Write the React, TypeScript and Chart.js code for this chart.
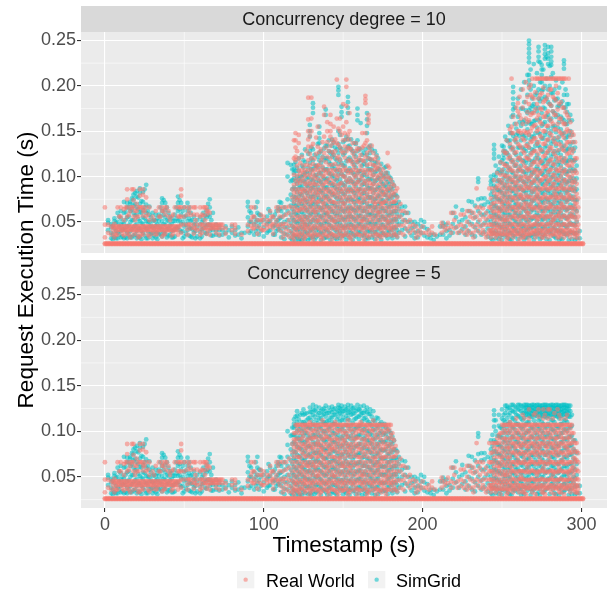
import React, { useEffect, useRef } from "react";
import { Chart, registerables } from "chart.js";

Chart.register(...registerables);

type Col = [number, number[]]; // [timestamp (s), request execution times (ms)]

// ---------- labels & ticks ----------
const PANEL_TITLES = ["Concurrency degree = 10", "Concurrency degree = 5"];
const SERIES_NAMES = ["Real World", "SimGrid"];
const X_TITLE = "Timestamp (s)";
const Y_TITLE = "Request Execution Time (s)";
const X_TICKS = [0, 100, 200, 300];
const Y_TICKS = [0.05, 0.1, 0.15, 0.2, 0.25];
const X_MINOR = [50, 150, 250];
const Y_MINOR = [0.025, 0.075, 0.125, 0.175, 0.225];

// ---------- data (values in ms) ----------
const BASELINE_MS = [25.6, 26.4];
const BASELINE_T = [
  0, 1, 2, 3, 4, 5, 6, 7, 8, 9, 10, 11, 12, 13, 14, 15, 16, 17, 18, 19, 20, 21, 22, 23, 24, 25, 26, 27, 28, 29,
  30, 31, 32, 33, 34, 35, 36, 37, 38, 39, 40, 41, 42, 43, 44, 45, 46, 47, 48, 49, 50, 51, 52, 53, 54, 55, 56, 57, 58, 59,
  60, 61, 62, 63, 64, 65, 66, 67, 68, 69, 70, 71, 72, 73, 74, 75, 76, 77, 78, 79, 80, 81, 82, 83, 84, 85, 86, 87, 88, 89,
  90, 91, 92, 93, 94, 95, 96, 97, 98, 99, 100, 101, 102, 103, 104, 105, 106, 107, 108, 109, 110, 111, 112, 113, 114, 115,
  116, 117, 118, 119, 120, 121, 122, 123, 124, 125, 126, 127, 128, 129, 130, 131, 132, 133, 134, 135, 136, 137, 138, 139,
  140, 141, 142, 143, 144, 145, 146, 147, 148, 149, 150, 151, 152, 153, 154, 155, 156, 157, 158, 159, 160, 161, 162, 163,
  164, 165, 166, 167, 168, 169, 170, 171, 172, 173, 174, 175, 176, 177, 178, 179, 180, 181, 182, 183, 184, 185, 186, 187,
  188, 189, 190, 191, 192, 193, 194, 195, 196, 197, 198, 199, 200, 201, 202, 203, 204, 205, 206, 207, 208, 209, 210, 211,
  212, 213, 214, 215, 216, 217, 218, 219, 220, 221, 222, 223, 224, 225, 226, 227, 228, 229, 230, 231, 232, 233, 234, 235,
  236, 237, 238, 239, 240, 241, 242, 243, 244, 245, 246, 247, 248, 249, 250, 251, 252, 253, 254, 255, 256, 257, 258, 259,
  260, 261, 262, 263, 264, 265, 266, 267, 268, 269, 270, 271, 272, 273, 274, 275, 276, 277, 278, 279, 280, 281, 282, 283,
  284, 285, 286, 287, 288, 289, 290, 291, 292, 293, 294, 295, 296, 297, 298, 299, 300, 301,
];

const REAL_LOW: Col[] = [
  [0, [66, 47, 33]], [2, [47, 38]], [4, [45, 36]], [6, [48, 44, 37, 33]], [8, [66, 45, 41, 36]],
  [10, [66, 56, 45, 41]], [12, [64, 52, 45, 41, 35]], [14, [86, 75, 66, 56, 45, 41, 37]], [16, [66, 62, 45, 41, 33]],
  [18, [86, 74, 66, 56, 45, 41, 36]], [20, [70, 62, 56, 45, 41, 37]], [22, [86, 79, 66, 45, 41, 34]],
  [24, [86, 80, 66, 62, 57, 45, 41, 36]], [26, [77, 66, 56, 45, 41]], [28, [66, 52, 45, 41, 34]], [30, [56, 45, 41, 37]],
  [32, [62, 45, 41, 36]], [34, [66, 56, 45, 41]], [36, [66, 62, 45, 41, 34]], [38, [66, 58, 45, 41, 37]],
  [40, [62, 56, 45, 41]], [42, [56, 45, 41, 35]], [44, [66, 45, 41]], [46, [66, 56, 45, 41, 36]],
  [48, [86, 79, 66, 56, 47, 38]], [50, [66, 56, 47]], [52, [66, 58, 47, 42, 36]], [54, [66, 58, 47, 43]],
  [56, [66, 58, 47, 43, 37]], [58, [58, 47, 41]], [60, [66, 56, 47, 42, 36]], [62, [66, 57, 47, 43]],
  [64, [66, 62, 58, 47, 43, 37]], [66, [60, 47, 43, 36]], [68, [47, 43]], [70, [47, 43, 38]], [72, [47, 43, 36]],
  [74, [47, 43]], [76, [43, 37]], [80, [47, 41]], [82, [47, 43, 37]], [86, [36]], [90, [47, 40]],
  [92, [66, 52, 46]], [94, [66, 56, 48, 43]], [96, [52, 45, 37]], [98, [58, 52, 43]], [100, [56, 47, 41]],
  [102, [52, 47, 43]], [104, [62, 52, 45]], [106, [56, 48, 43, 37]], [108, [66, 52, 47]], [110, [66, 56, 47, 41]],
];
const REAL_LOW_ODD: Col[] = [
  [5, [45, 41]], [7, [45, 41, 36]], [9, [56, 45, 41]], [11, [45, 41, 37]], [13, [66, 45, 41]], [15, [58, 45, 41, 36]],
  [17, [86, 66, 45, 41]], [19, [62, 52, 45, 41]], [21, [66, 56, 45, 41, 33]], [23, [66, 45, 41, 37]], [25, [62, 45, 41]],
  [27, [58, 45, 41, 36]], [29, [45, 41]], [31, [52, 45, 41]], [33, [45, 41, 37]], [35, [56, 45, 41]],
  [37, [62, 45, 41, 36]], [39, [66, 45, 41]], [41, [52, 45, 41]], [43, [58, 45, 41, 37]], [45, [45, 41]],
  [47, [66, 56, 45]], [53, [62, 47]], [57, [66, 52, 43]], [61, [58, 47, 38]], [63, [66, 52, 43]], [65, [62, 47, 41]],
  [67, [47, 43]], [69, [47, 43]], [71, [47, 43]], [73, [47]], [93, [56, 43]], [99, [52, 41]], [105, [56, 47]],
  [109, [62, 45]],
];

const SIM_LOW: Col[] = [
  [2, [52, 49, 41]], [4, [48, 44, 38, 32]], [6, [54, 51, 43, 33]], [8, [60, 50, 38, 32]], [10, [62, 54, 47, 40, 33]],
  [12, [72, 60, 48, 43, 32]], [14, [71, 66, 55, 45, 38, 32]], [16, [72, 70, 62, 50, 40, 33]],
  [18, [80, 75, 68, 60, 52, 44, 35]], [20, [84, 78, 66, 58, 48, 40, 32]], [22, [87, 82, 70, 61, 51, 43, 33]],
  [24, [83, 72, 63, 55, 48, 38]], [26, [91, 69, 60, 51, 43, 32]], [28, [67, 58, 50, 45, 36]], [30, [60, 51, 44, 38, 32]],
  [32, [58, 51, 46, 39, 33]], [34, [58, 51, 43, 36]], [36, [76, 71, 62, 51, 42, 34]], [38, [71, 63, 55, 47, 37]],
  [40, [60, 51, 43, 35]], [42, [54, 48, 40, 33]], [44, [58, 51, 42, 34]], [46, [78, 71, 62, 51, 44]],
  [48, [71, 58, 48, 39]], [50, [66, 55, 45, 34]], [52, [71, 62, 51, 41]], [54, [60, 51, 43, 34]], [56, [56, 47, 38]],
  [58, [52, 44, 34]], [60, [55, 47, 39, 32]], [62, [60, 52, 43]], [64, [63, 55, 45, 37]], [66, [75, 66, 56, 47, 40]],
  [68, [60, 45, 41, 35]], [70, [47, 41, 36]], [72, [45, 41, 35]], [74, [41, 36]], [76, [45, 38]], [78, [41, 33]],
  [80, [45, 38]], [82, [41, 35]], [84, [44, 36]], [86, [38, 32]], [88, [38]], [90, [72, 67, 55, 45]],
  [92, [60, 50, 40]], [94, [55, 47, 36]], [96, [72, 60, 52, 43]], [98, [57, 50, 40]], [100, [52, 44, 34]],
  [102, [56, 48, 38]], [104, [60, 51, 41]], [106, [55, 45, 36]], [108, [62, 50, 40]], [110, [72, 64, 54, 44]],
];
const SIM_LOW_ODD: Col[] = [
  [5, [46, 36, 31]], [7, [49, 40, 32]], [9, [56, 45, 36]], [11, [50, 42, 34]], [13, [61, 52, 41, 33]],
  [15, [66, 56, 46, 36]], [17, [76, 64, 52, 42, 33]], [19, [82, 70, 57, 46, 36]], [21, [77, 64, 53, 43, 34]],
  [23, [73, 60, 49, 40, 31]], [25, [86, 66, 54, 44, 35]], [27, [62, 50, 40, 32]], [29, [55, 46, 37]],
  [31, [52, 43, 35]], [33, [54, 47, 38, 31]], [35, [66, 56, 46, 37]], [37, [74, 58, 48, 38]], [39, [66, 52, 42, 33]],
  [41, [56, 46, 36]], [43, [51, 41, 33]], [45, [66, 54, 44]], [47, [74, 64, 52, 41]], [49, [62, 50, 40, 32]],
  [51, [57, 47, 37]], [53, [66, 54, 44, 35]], [55, [52, 42, 33]], [57, [48, 40, 32]], [61, [50, 42, 34]],
  [63, [57, 47, 38]], [65, [70, 58, 47]], [67, [52, 43, 35]], [91, [62, 50, 38]], [95, [66, 50, 40]],
  [97, [58, 46, 36]], [103, [64, 50, 40]], [107, [58, 46, 36]], [109, [66, 52, 42]],
];

const REAL_MID: Col[] = [
  [192, [52, 45, 38]], [194, [47, 41]], [196, [45, 38, 33]], [198, [41, 36]], [200, [45, 38]], [202, [38]],
  [204, [41, 36]], [206, [45, 38]], [208, [36]], [212, [49, 45, 38]], [214, [45, 41]], [216, [49, 43]],
  [218, [60, 45, 38]], [220, [60, 52, 43]], [222, [45, 38]], [224, [58, 47, 40]], [226, [58, 45, 38]],
  [228, [62, 50, 41, 36]], [230, [62, 56, 47, 38]], [232, [60, 54, 45, 38, 33]], [234, [87, 66, 56, 47, 41]],
  [236, [66, 60, 52, 45, 38]],
];

const SIM_MID: Col[] = [
  [193, [50, 43, 35]], [195, [50, 45, 38, 32]], [197, [48, 40, 33]], [199, [52, 45, 38]], [201, [50, 44, 35]],
  [203, [42, 33]], [205, [36, 32]], [207, [36, 30]], [209, [34]], [211, [45, 36]], [213, [49, 45, 36]],
  [215, [47, 40, 32]], [217, [41, 35]], [219, [60, 48, 38]], [221, [67, 55, 44]], [223, [50, 38]],
  [225, [63, 52, 42]], [227, [55, 45, 36]], [229, [73, 62, 50, 40]], [231, [72, 60, 48, 36]],
  [233, [68, 55, 44, 34]], [235, [98, 94, 75, 62, 50, 40]], [237, [76, 68, 58, 46, 36]],
];

const REAL_PEAK1_C10: Col[] = [
  [112, [66, 56, 48, 45, 38, 33]], [114, [66, 58, 48, 42, 36]], [116, [67, 60, 52, 46, 40, 34]],
  [118, [86, 77, 66, 56, 46, 38, 33]], [120, [148, 140, 132, 122, 118, 96, 86, 77, 66, 56, 46, 41, 36]],
  [122, [146, 137, 120, 107, 96, 86, 77, 70, 62, 56, 46, 38, 33]], [124, [122, 107, 98, 86, 80, 72, 66, 56, 50, 46, 38]],
  [126, [107, 100, 92, 86, 77, 70, 66, 56, 48, 46, 41, 33]],
  [128, [187, 163, 150, 141, 133, 118, 107, 95, 86, 77, 66, 56, 46, 38]],
  [130, [187, 164, 150, 133, 120, 107, 99, 90, 86, 77, 72, 66, 56, 46, 41, 34]],
  [132, [120, 107, 98, 92, 86, 77, 66, 61, 56, 46, 38]],
  [134, [155, 133, 112, 107, 97, 86, 80, 72, 66, 56, 51, 46, 36]],
  [136, [130, 118, 107, 96, 86, 77, 66, 56, 46, 41, 33]],
  [138, [177, 168, 144, 126, 107, 100, 92, 86, 77, 70, 66, 56, 46, 38]],
  [140, [160, 150, 138, 122, 107, 96, 86, 77, 66, 60, 56, 46, 41, 34]],
  [142, [168, 158, 150, 144, 134, 120, 107, 98, 86, 77, 66, 56, 46, 38]],
  [144, [155, 137, 124, 107, 95, 86, 80, 72, 66, 56, 51, 46, 36]],
  [146, [207, 164, 137, 120, 107, 98, 86, 77, 66, 56, 46, 41, 33]],
  [148, [164, 150, 132, 118, 107, 92, 86, 77, 66, 56, 46, 38]],
  [150, [180, 155, 140, 126, 107, 100, 86, 77, 70, 66, 56, 46, 41, 35]],
  [152, [207, 199, 178, 160, 141, 128, 107, 96, 86, 77, 66, 56, 46, 38]],
  [154, [170, 150, 141, 131, 119, 107, 98, 86, 77, 66, 60, 56, 46, 33]],
  [156, [137, 126, 114, 107, 96, 86, 77, 66, 56, 46, 41]],
  [158, [137, 128, 118, 107, 100, 92, 86, 77, 66, 56, 46, 38]],
  [160, [130, 120, 107, 96, 86, 80, 72, 66, 56, 46, 36]],
  [162, [148, 132, 118, 107, 98, 86, 77, 66, 56, 51, 46, 41]],
  [164, [189, 185, 181, 148, 137, 122, 107, 95, 86, 77, 66, 56, 46, 38]],
  [166, [168, 163, 159, 133, 120, 107, 96, 86, 77, 66, 56, 46, 33]],
  [168, [134, 119, 107, 100, 90, 86, 77, 66, 56, 46, 41]],
  [170, [119, 112, 107, 96, 86, 77, 70, 66, 56, 46, 38]],
  [172, [116, 108, 98, 86, 77, 66, 60, 56, 46, 36]],
  [174, [104, 96, 86, 77, 70, 66, 56, 46, 41, 33]],
  [176, [98, 86, 80, 72, 66, 56, 46, 38]],
  [178, [126, 112, 100, 86, 77, 66, 56, 50, 46, 36]],
  [180, [96, 86, 77, 66, 56, 46, 41]], [182, [90, 80, 72, 66, 56, 46, 38]], [184, [87, 77, 66, 56, 46, 34]],
  [186, [70, 62, 56, 46, 38]], [188, [62, 52, 46, 36]], [190, [60, 50, 42]],
];
const REAL_PEAK1_C10_ODD: Col[] = [
  [119, [140, 120, 102, 91, 82, 72, 61, 51, 43, 36, 31]], [121, [128, 112, 101, 92, 82, 74, 63, 52, 43, 36]],
  [123, [115, 103, 93, 83, 74, 64, 53, 43, 35]], [125, [112, 104, 95, 84, 75, 63, 52, 43, 36, 31]],
  [127, [128, 113, 102, 91, 82, 73, 62, 52, 43, 35]], [129, [145, 125, 112, 102, 92, 82, 71, 61, 51, 43, 36]],
  [131, [136, 114, 103, 94, 82, 74, 63, 52, 43, 36, 31]], [133, [143, 125, 111, 101, 91, 82, 71, 61, 51, 43, 35]],
  [135, [127, 113, 103, 92, 83, 73, 63, 52, 43, 36]], [137, [138, 121, 111, 101, 90, 81, 71, 61, 51, 43, 35, 31]],
  [139, [132, 116, 104, 94, 83, 74, 63, 52, 43, 36]], [141, [128, 113, 103, 92, 82, 72, 61, 51, 43, 35]],
  [143, [140, 127, 113, 103, 92, 82, 72, 62, 52, 43, 36, 31]], [145, [141, 128, 114, 102, 91, 82, 71, 61, 51, 43, 35]],
  [147, [153, 135, 122, 111, 101, 90, 81, 71, 61, 52, 43, 36]], [149, [146, 128, 113, 103, 93, 83, 73, 62, 52, 43, 35, 31]],
  [151, [148, 133, 121, 110, 100, 90, 81, 71, 61, 51, 43, 36]], [153, [146, 132, 117, 104, 94, 83, 73, 62, 52, 43, 35]],
  [155, [130, 117, 104, 93, 83, 72, 62, 52, 43, 36, 31]], [157, [122, 111, 101, 90, 81, 71, 61, 51, 43, 35]],
  [159, [131, 116, 104, 94, 84, 73, 62, 52, 43, 36]], [161, [124, 112, 101, 91, 81, 71, 61, 51, 43, 35]],
  [163, [134, 117, 104, 93, 83, 73, 62, 52, 43, 36, 31]], [165, [140, 126, 113, 102, 91, 81, 71, 61, 51, 43, 35]],
  [167, [129, 114, 104, 93, 83, 73, 62, 52, 43, 36]], [169, [126, 113, 102, 92, 82, 72, 61, 51, 43, 35]],
  [171, [122, 110, 101, 91, 81, 72, 62, 52, 43, 36, 31]], [173, [112, 102, 92, 82, 72, 61, 51, 43, 35]],
  [175, [108, 100, 90, 81, 71, 61, 52, 43, 36]], [177, [104, 93, 83, 73, 62, 52, 43, 35]],
  [179, [110, 98, 89, 80, 71, 61, 51, 43, 36]], [181, [92, 82, 72, 61, 51, 43, 35]], [183, [84, 73, 62, 52, 43, 36]],
];

const SIM_PEAK1_C10: Col[] = [
  [111, [71, 62, 55, 48, 40, 33]], [113, [66, 58, 50, 44, 37, 31]], [115, [115, 100, 75, 62, 52, 44, 36]],
  [117, [113, 95, 80, 68, 58, 49, 40, 32]], [119, [113, 108, 104, 98, 88, 78, 70, 61, 52, 44, 35]],
  [121, [110, 100, 92, 83, 74, 66, 57, 49, 41, 33]], [123, [100, 95, 89, 81, 73, 64, 55, 47, 39, 31]],
  [125, [118, 110, 102, 95, 86, 76, 68, 59, 50, 42, 34]], [127, [105, 98, 90, 82, 72, 63, 55, 47, 38]],
  [129, [157, 150, 144, 128, 115, 104, 93, 84, 75, 66, 57, 48, 40, 32]],
  [131, [181, 176, 170, 130, 118, 108, 96, 88, 78, 70, 61, 52, 43, 34]],
  [133, [112, 102, 94, 85, 76, 67, 58, 50, 41, 33]],
  [135, [155, 148, 142, 137, 126, 118, 104, 95, 85, 76, 66, 57, 48, 39]],
  [137, [122, 110, 100, 91, 82, 72, 63, 54, 45, 36]],
  [139, [174, 168, 134, 120, 108, 97, 88, 79, 70, 60, 51, 42, 33]],
  [141, [140, 128, 116, 104, 94, 84, 75, 66, 56, 47, 38]],
  [143, [141, 134, 127, 122, 110, 100, 90, 80, 70, 61, 52, 43, 34]],
  [145, [132, 120, 108, 97, 88, 78, 68, 59, 50, 41, 32]],
  [147, [199, 195, 190, 150, 136, 126, 114, 102, 92, 82, 72, 62, 52, 44, 35]],
  [149, [177, 171, 166, 130, 115, 103, 93, 84, 74, 64, 55, 46, 37]],
  [151, [140, 126, 112, 100, 90, 80, 70, 61, 52, 43, 34]],
  [153, [188, 182, 176, 170, 141, 133, 119, 106, 94, 84, 74, 64, 55, 45, 36]],
  [155, [141, 130, 118, 106, 95, 85, 75, 65, 56, 47, 38]],
  [157, [137, 125, 113, 102, 92, 82, 72, 63, 53, 44, 35]],
  [159, [175, 168, 162, 140, 128, 116, 104, 94, 84, 74, 64, 55, 46, 37]],
  [161, [159, 130, 118, 106, 96, 86, 76, 66, 57, 48, 39]],
  [163, [126, 114, 102, 92, 82, 72, 62, 53, 44, 35]],
  [165, [170, 163, 156, 148, 124, 112, 100, 90, 80, 70, 61, 52, 42, 33]],
  [167, [134, 126, 119, 108, 97, 87, 77, 67, 58, 48, 39]],
  [169, [112, 102, 92, 82, 72, 63, 54, 45, 36]],
  [171, [124, 115, 106, 96, 86, 76, 66, 57, 48, 39]],
  [173, [108, 98, 88, 79, 70, 61, 52, 43, 34]],
  [175, [101, 92, 83, 74, 65, 56, 47, 38]],
  [177, [111, 104, 97, 89, 80, 71, 62, 53, 44, 35]],
  [179, [100, 92, 84, 75, 66, 57, 48, 39]], [181, [94, 86, 77, 68, 59, 50, 41, 32]],
  [183, [80, 71, 62, 53, 44, 36]], [185, [72, 64, 55, 47, 38]], [187, [67, 58, 50, 41]],
  [189, [67, 60, 52, 43, 34]], [191, [60, 50, 40]],
];
const SIM_PEAK1_C10_EVEN: Col[] = [
  [118, [108, 96, 86, 74, 64, 54, 45, 37, 30]], [120, [116, 106, 95, 86, 77, 68, 59, 50, 42, 34, 29]],
  [122, [120, 106, 97, 87, 78, 69, 60, 51, 43, 35, 30]], [124, [124, 112, 100, 90, 80, 70, 61, 52, 44, 36, 30]],
  [126, [130, 116, 104, 94, 84, 74, 65, 56, 47, 39, 31]], [128, [125, 110, 99, 89, 79, 70, 61, 52, 44, 36, 30]],
  [130, [132, 120, 108, 97, 87, 78, 68, 59, 50, 41, 33]], [132, [124, 112, 101, 91, 81, 72, 63, 54, 45, 37, 30]],
  [134, [136, 122, 110, 99, 89, 80, 70, 61, 52, 43, 35]], [136, [128, 115, 104, 94, 84, 74, 65, 56, 47, 38, 30]],
  [138, [131, 118, 107, 97, 87, 77, 67, 58, 49, 40, 32]], [140, [134, 120, 108, 98, 88, 78, 68, 59, 50, 41, 33]],
  [142, [126, 114, 103, 93, 83, 73, 64, 55, 46, 37, 30]], [144, [138, 124, 112, 101, 91, 81, 71, 62, 53, 44, 35]],
  [146, [130, 118, 106, 96, 86, 76, 66, 57, 48, 39, 31]], [148, [146, 132, 119, 107, 97, 87, 77, 67, 58, 49, 40, 32]],
  [150, [138, 124, 112, 101, 91, 81, 71, 62, 53, 44, 35]], [152, [144, 130, 117, 106, 95, 85, 75, 65, 56, 47, 38, 30]],
  [154, [134, 121, 109, 98, 88, 78, 68, 59, 50, 41, 33]], [156, [128, 116, 104, 94, 84, 74, 64, 55, 46, 37, 30]],
  [158, [136, 122, 110, 99, 89, 79, 69, 60, 51, 42, 34]], [160, [131, 118, 106, 96, 86, 76, 66, 57, 48, 39, 31]],
  [162, [124, 112, 101, 91, 81, 71, 62, 53, 44, 35]], [164, [130, 117, 105, 95, 85, 75, 65, 56, 47, 38, 30]],
  [166, [132, 120, 108, 97, 87, 77, 67, 58, 49, 40, 32]],
  [168, [130, 118, 107, 97, 87, 77, 68, 59, 50, 41, 33]], [170, [128, 116, 105, 95, 85, 75, 66, 57, 48, 39, 31]],
  [172, [120, 109, 99, 89, 79, 70, 61, 52, 43, 35]], [174, [114, 104, 94, 84, 74, 65, 56, 47, 38, 30]],
  [176, [110, 100, 90, 80, 71, 62, 53, 44, 36]], [178, [104, 94, 85, 76, 67, 58, 49, 40, 32]],
  [180, [98, 88, 79, 70, 61, 52, 43, 35]], [182, [90, 80, 71, 62, 53, 44, 36]], [184, [78, 68, 59, 50, 41, 33]],
];

const REAL_PEAK2_C10: Col[] = [
  [238, [65, 56, 47, 41, 37]], [240, [60, 53, 47, 37, 33]], [242, [87, 66, 56, 47, 41, 37]],
  [244, [87, 70, 62, 56, 47, 41, 37]], [246, [87, 77, 66, 56, 47, 41, 37, 33]],
  [248, [96, 87, 77, 66, 60, 56, 47, 41, 37]], [250, [107, 96, 87, 77, 70, 66, 56, 47, 41, 37]],
  [252, [126, 112, 100, 87, 77, 66, 56, 52, 47, 41, 37]],
  [254, [120, 107, 96, 87, 77, 70, 66, 56, 47, 41, 37, 33]],
  [256, [208, 155, 148, 130, 116, 107, 96, 87, 77, 66, 56, 47, 41, 37]],
  [258, [140, 126, 112, 100, 92, 87, 77, 66, 60, 56, 47, 41, 37]],
  [260, [181, 172, 150, 136, 120, 107, 96, 87, 77, 69, 66, 56, 47, 41, 37]],
  [262, [164, 148, 132, 118, 107, 98, 87, 80, 77, 66, 56, 47, 41, 37]],
  [264, [150, 140, 126, 112, 100, 92, 87, 77, 70, 66, 56, 47, 41, 37, 33]],
  [266, [188, 171, 160, 149, 134, 120, 107, 96, 87, 77, 66, 60, 56, 47, 41, 37]],
  [268, [201, 190, 168, 150, 138, 124, 110, 100, 92, 87, 77, 69, 66, 56, 47, 41, 37]],
  [270, [186, 170, 156, 142, 128, 116, 107, 96, 87, 77, 66, 56, 47, 41, 37]],
  [272, [208, 180, 164, 150, 136, 120, 107, 100, 87, 80, 77, 66, 56, 52, 47, 41, 37]],
  [274, [208, 190, 175, 160, 145, 130, 116, 104, 96, 87, 77, 69, 66, 56, 47, 41, 37]],
  [276, [208, 198, 182, 166, 150, 136, 122, 110, 98, 87, 77, 66, 60, 56, 47, 41, 37, 33]],
  [278, [208, 186, 170, 156, 140, 126, 112, 100, 92, 87, 77, 66, 56, 47, 41, 37]],
  [280, [208, 196, 180, 164, 148, 132, 118, 107, 96, 87, 77, 70, 66, 56, 47, 41, 37]],
  [282, [208, 188, 172, 158, 142, 128, 114, 102, 92, 87, 77, 66, 56, 52, 47, 41, 37]],
  [284, [208, 200, 184, 168, 152, 136, 122, 108, 98, 87, 80, 77, 66, 56, 47, 41, 37]],
  [286, [208, 180, 164, 150, 136, 120, 107, 96, 87, 77, 66, 60, 56, 47, 41, 37, 33]],
  [288, [208, 176, 160, 146, 130, 116, 104, 92, 87, 77, 69, 66, 56, 47, 41, 37]],
  [290, [208, 171, 158, 149, 134, 120, 107, 96, 87, 77, 66, 56, 47, 41, 37]],
  [292, [208, 165, 150, 138, 126, 112, 100, 87, 80, 77, 66, 56, 52, 47, 41, 37]],
  [294, [149, 138, 126, 112, 100, 92, 87, 77, 66, 60, 56, 47, 41, 37]],
  [296, [138, 120, 107, 96, 87, 77, 70, 66, 56, 47, 41, 37, 33]],
  [298, [76, 66, 56, 47, 41, 37, 32]],
];
const REAL_PEAK2_C10_ODD: Col[] = [
  [243, [76, 66, 56, 47, 41, 37, 33]], [245, [96, 82, 71, 61, 52, 44, 37]], [247, [104, 90, 81, 72, 62, 52, 44, 36]],
  [249, [116, 102, 92, 82, 72, 62, 52, 44, 36, 31]], [251, [128, 114, 102, 92, 82, 73, 63, 52, 44, 36]],
  [253, [140, 126, 112, 101, 91, 82, 72, 62, 52, 44, 36, 31]], [255, [152, 136, 122, 110, 100, 91, 82, 72, 62, 52, 44, 36]],
  [257, [166, 148, 132, 118, 106, 96, 86, 76, 66, 56, 48, 40, 33]],
  [259, [176, 158, 142, 127, 114, 103, 93, 83, 73, 63, 53, 44, 36]],
  [261, [188, 168, 150, 134, 121, 110, 100, 90, 80, 70, 61, 52, 44, 36, 31]],
  [263, [196, 176, 158, 142, 128, 116, 105, 95, 85, 75, 65, 56, 48, 40, 33]],
  [265, [204, 182, 164, 148, 134, 121, 110, 100, 90, 80, 71, 62, 53, 44, 36]],
  [267, [198, 180, 162, 146, 132, 119, 108, 98, 88, 78, 69, 60, 51, 44, 36, 31]],
  [269, [208, 188, 170, 154, 139, 126, 114, 103, 93, 83, 73, 64, 55, 46, 38]],
  [271, [208, 193, 174, 157, 142, 128, 116, 105, 95, 85, 75, 65, 56, 48, 40, 33]],
  [273, [208, 186, 168, 152, 138, 125, 113, 102, 92, 82, 72, 62, 53, 44, 36]],
  [275, [208, 192, 174, 158, 143, 129, 117, 106, 96, 86, 76, 66, 57, 48, 40, 33]],
  [277, [208, 184, 166, 150, 136, 123, 111, 100, 90, 80, 71, 62, 53, 44, 36]],
  [279, [208, 190, 172, 156, 141, 128, 116, 105, 95, 85, 75, 65, 56, 48, 40, 33]],
  [281, [208, 196, 178, 161, 146, 132, 119, 108, 98, 88, 78, 68, 59, 50, 42, 35]],
  [283, [208, 186, 168, 152, 138, 125, 113, 102, 92, 82, 72, 62, 53, 44, 36]],
  [285, [208, 192, 174, 158, 143, 129, 117, 106, 96, 86, 76, 66, 57, 48, 40, 33]],
  [287, [208, 182, 164, 148, 134, 121, 110, 100, 90, 80, 71, 62, 53, 44, 36]],
  [289, [208, 176, 158, 143, 129, 117, 106, 96, 86, 76, 66, 57, 48, 40, 33]],
  [291, [168, 152, 138, 125, 113, 102, 92, 82, 72, 62, 53, 44, 36]],
  [293, [160, 144, 130, 117, 106, 96, 86, 76, 66, 57, 48, 40, 33]],
  [295, [146, 130, 116, 104, 94, 84, 74, 64, 55, 46, 38]], [297, [120, 104, 92, 81, 71, 61, 52, 44, 36]],
];

const SIM_PEAK2_C10: Col[] = [
  [239, [76, 69, 58, 49, 39]], [241, [72, 62, 52, 43, 34]], [243, [100, 95, 91, 80, 70, 60, 50, 40, 32]],
  [245, [135, 130, 125, 120, 102, 90, 78, 68, 58, 48, 38]], [247, [105, 95, 85, 75, 65, 55, 46, 36]],
  [249, [115, 104, 94, 84, 74, 64, 54, 44, 34]], [251, [133, 128, 124, 120, 108, 98, 88, 78, 68, 58, 48, 39]],
  [253, [140, 126, 114, 104, 94, 84, 74, 64, 54, 45, 36]],
  [255, [148, 140, 133, 120, 108, 98, 88, 78, 68, 58, 48, 38, 31]],
  [257, [199, 193, 186, 180, 174, 168, 145, 130, 116, 104, 94, 84, 74, 64, 54, 44, 35]],
  [259, [153, 146, 138, 124, 112, 100, 90, 80, 70, 60, 50, 40]],
  [261, [160, 145, 132, 120, 108, 97, 87, 77, 67, 57, 47, 37]],
  [263, [175, 160, 146, 132, 118, 106, 95, 85, 75, 65, 55, 45, 35]],
  [265, [173, 158, 142, 128, 115, 103, 92, 82, 72, 62, 52, 42, 33]],
  [267, [250, 246, 241, 236, 231, 226, 212, 206, 201, 173, 160, 146, 132, 118, 106, 95, 85, 75, 65, 55, 45, 36]],
  [269, [186, 178, 171, 158, 144, 130, 117, 105, 94, 84, 74, 64, 54, 44, 34]],
  [271, [190, 176, 162, 148, 134, 120, 108, 97, 87, 77, 67, 57, 47, 37]],
  [273, [243, 238, 232, 227, 196, 186, 176, 162, 148, 134, 120, 108, 97, 87, 77, 67, 57, 47, 38]],
  [275, [223, 218, 212, 204, 195, 186, 170, 156, 142, 128, 115, 103, 92, 82, 72, 62, 52, 42, 33]],
  [277, [245, 240, 235, 230, 200, 188, 175, 160, 146, 132, 118, 106, 95, 85, 75, 65, 55, 45, 35]],
  [279, [243, 236, 230, 224, 196, 182, 168, 154, 140, 126, 114, 102, 92, 82, 72, 62, 52, 42]],
  [281, [243, 238, 232, 227, 223, 210, 192, 178, 164, 150, 136, 122, 110, 99, 89, 79, 69, 59, 49, 39]],
  [283, [196, 184, 170, 156, 142, 128, 116, 104, 94, 84, 74, 64, 54, 44, 34]],
  [285, [186, 177, 168, 154, 140, 126, 113, 101, 91, 81, 71, 61, 51, 41]],
  [287, [180, 166, 152, 138, 124, 112, 100, 90, 80, 70, 60, 50, 40, 32]],
  [289, [228, 224, 219, 190, 176, 162, 148, 134, 120, 108, 97, 87, 77, 67, 57, 47, 37]],
  [291, [190, 180, 171, 158, 144, 130, 117, 105, 94, 84, 74, 64, 54, 44, 35]],
  [293, [168, 150, 136, 122, 110, 99, 89, 79, 69, 59, 49, 39]],
  [295, [138, 128, 118, 108, 98, 88, 78, 68, 58, 48, 38]],
  [297, [112, 98, 86, 74, 62, 50, 38, 32]], [299, [40, 32]],
];
const SIM_PEAK2_C10_EVEN: Col[] = [
  [244, [96, 84, 74, 64, 54, 45, 37, 30]], [246, [112, 100, 88, 78, 68, 58, 49, 40, 32]],
  [248, [122, 108, 96, 85, 75, 65, 56, 47, 38, 31]], [250, [134, 118, 105, 93, 82, 72, 62, 53, 44, 36, 30]],
  [252, [144, 128, 114, 101, 90, 80, 70, 60, 51, 42, 34]], [254, [156, 139, 124, 110, 98, 87, 77, 67, 58, 49, 40, 32]],
  [256, [166, 148, 132, 118, 105, 94, 84, 74, 64, 55, 46, 38, 30]],
  [258, [176, 158, 141, 126, 112, 100, 89, 79, 69, 60, 51, 42, 34]],
  [260, [186, 166, 148, 132, 118, 106, 95, 85, 75, 65, 56, 47, 38, 31]],
  [262, [196, 175, 156, 140, 125, 112, 100, 89, 79, 69, 60, 51, 42, 34]],
  [264, [204, 182, 162, 145, 130, 117, 105, 94, 84, 74, 64, 55, 46, 38, 30]],
  [266, [212, 190, 170, 152, 136, 122, 109, 98, 88, 78, 68, 59, 50, 41, 33]],
  [268, [218, 196, 176, 158, 141, 126, 113, 101, 90, 80, 70, 61, 52, 43, 35]],
  [270, [224, 200, 180, 161, 144, 129, 116, 104, 93, 83, 73, 63, 54, 45, 37, 30]],
  [272, [214, 192, 172, 154, 138, 124, 111, 100, 89, 79, 69, 60, 51, 42, 34]],
  [274, [226, 204, 183, 164, 147, 132, 118, 106, 95, 85, 75, 65, 56, 47, 38, 31]],
  [276, [218, 196, 176, 158, 142, 127, 114, 102, 91, 81, 71, 62, 53, 44, 36]],
  [278, [232, 208, 186, 166, 149, 134, 120, 108, 97, 86, 76, 66, 57, 48, 39, 31]],
  [280, [222, 200, 180, 162, 145, 130, 117, 105, 94, 84, 74, 64, 55, 46, 38, 30]],
  [282, [214, 192, 172, 155, 139, 125, 112, 100, 90, 80, 70, 61, 52, 43, 35]],
  [284, [206, 185, 166, 149, 134, 120, 108, 97, 87, 77, 67, 58, 49, 40, 32]],
  [286, [198, 178, 160, 144, 129, 116, 104, 93, 83, 73, 64, 55, 46, 38, 30]],
  [288, [204, 183, 164, 147, 132, 118, 106, 95, 85, 75, 65, 56, 47, 39, 31]],
  [290, [196, 176, 158, 142, 128, 115, 103, 92, 82, 72, 63, 54, 45, 37]],
  [292, [180, 162, 146, 131, 118, 106, 95, 85, 75, 65, 56, 47, 38, 30]],
  [294, [162, 146, 131, 118, 106, 95, 85, 75, 65, 56, 47, 38, 31]],
  [296, [132, 118, 106, 94, 84, 74, 64, 55, 46, 37, 30]],
];

const REAL_PEAK1_C5: Col[] = [
  [112, [66, 56, 48, 45, 38, 33]], [114, [66, 58, 48, 42, 36]], [116, [70, 60, 52, 46, 40, 34]],
  [118, [86, 77, 66, 56, 46, 38, 33]], [120, [107, 98, 90, 86, 77, 66, 56, 46, 41, 36]],
  [122, [107, 98, 86, 80, 72, 66, 56, 46, 38, 33]], [124, [107, 98, 92, 86, 77, 66, 60, 56, 46, 38]],
  [126, [107, 100, 86, 80, 72, 66, 56, 48, 46, 41, 33]], [128, [107, 98, 90, 86, 77, 66, 62, 56, 46, 38]],
  [130, [107, 98, 92, 86, 80, 72, 66, 56, 46, 41, 34]], [132, [107, 100, 94, 86, 77, 66, 61, 56, 46, 38]],
  [134, [107, 98, 88, 86, 77, 72, 66, 56, 51, 46, 36]], [136, [107, 96, 86, 80, 77, 66, 56, 46, 41, 33]],
  [138, [107, 98, 92, 86, 77, 70, 66, 56, 46, 38]], [140, [107, 100, 94, 86, 77, 66, 60, 56, 46, 41, 34]],
  [142, [107, 98, 90, 86, 80, 77, 66, 56, 46, 38]], [144, [107, 96, 86, 80, 72, 66, 56, 51, 46, 36]],
  [146, [107, 98, 92, 86, 77, 66, 56, 46, 41, 33]], [148, [107, 100, 86, 77, 70, 66, 56, 46, 38]],
  [150, [107, 98, 90, 86, 77, 66, 62, 56, 46, 41, 35]], [152, [107, 98, 94, 86, 77, 66, 56, 46, 38]],
  [154, [107, 100, 86, 80, 77, 66, 60, 56, 46, 33]], [156, [107, 96, 86, 77, 66, 56, 46, 41]],
  [158, [107, 98, 92, 86, 77, 66, 56, 46, 38]], [160, [107, 100, 86, 80, 72, 66, 56, 46, 36]],
  [162, [107, 98, 86, 77, 66, 56, 51, 46, 41]], [164, [107, 98, 90, 86, 77, 66, 56, 46, 38]],
  [166, [107, 96, 86, 77, 66, 56, 46, 33]], [168, [107, 100, 90, 86, 77, 66, 56, 46, 41]],
  [170, [107, 96, 86, 77, 70, 66, 56, 46, 38]], [172, [107, 98, 86, 77, 66, 60, 56, 46, 36]],
  [174, [107, 96, 86, 77, 70, 66, 56, 46, 41, 33]], [176, [107, 98, 86, 80, 72, 66, 56, 46, 38]],
  [178, [107, 100, 86, 77, 66, 56, 50, 46, 36]], [180, [107, 96, 86, 77, 66, 56, 46, 41]],
  [182, [90, 80, 72, 66, 56, 46, 38]], [184, [77, 66, 56, 46, 34]], [186, [70, 62, 56, 46, 38]],
  [188, [62, 52, 46, 36]], [190, [60, 50, 42]],
];
const REAL_PEAK1_C5_ODD: Col[] = [
  [119, [98, 91, 82, 72, 61, 51, 43, 36, 31]], [121, [107, 102, 92, 82, 72, 61, 51, 43, 35]],
  [123, [107, 101, 91, 82, 71, 61, 52, 43, 36, 31]], [125, [107, 104, 95, 84, 75, 63, 52, 43, 36]],
  [127, [107, 102, 91, 82, 73, 62, 52, 43, 35]], [129, [110, 107, 103, 94, 83, 72, 61, 51, 43, 36, 31]],
  [131, [107, 101, 92, 82, 74, 63, 52, 43, 36]], [133, [107, 103, 93, 82, 71, 61, 51, 43, 35]],
  [135, [107, 102, 92, 83, 73, 63, 52, 43, 36, 31]], [137, [112, 107, 101, 91, 81, 71, 61, 51, 43, 35]],
  [139, [107, 104, 94, 83, 74, 63, 52, 43, 36]], [141, [107, 102, 92, 82, 72, 61, 51, 43, 35, 31]],
  [143, [107, 103, 92, 82, 72, 62, 52, 43, 36]], [145, [110, 107, 102, 91, 82, 71, 61, 51, 43, 35]],
  [147, [107, 101, 90, 81, 71, 61, 52, 43, 36, 31]], [149, [107, 103, 93, 83, 73, 62, 52, 43, 35]],
  [151, [107, 100, 90, 81, 71, 61, 51, 43, 36]], [153, [112, 107, 104, 94, 83, 73, 62, 52, 43, 35, 31]],
  [155, [107, 102, 92, 82, 72, 61, 51, 43, 36]], [157, [107, 101, 91, 82, 73, 63, 52, 43, 35]],
  [159, [107, 103, 93, 83, 72, 61, 51, 43, 36, 31]], [161, [110, 107, 102, 92, 81, 71, 61, 52, 43, 35]],
  [163, [107, 101, 91, 82, 73, 62, 52, 43, 36]], [165, [107, 103, 94, 83, 72, 61, 51, 43, 35, 31]],
  [167, [107, 102, 92, 82, 71, 61, 52, 43, 36]], [169, [112, 107, 101, 91, 81, 71, 61, 51, 43, 35]],
  [171, [107, 103, 93, 82, 72, 62, 52, 43, 36, 31]], [173, [107, 102, 92, 82, 73, 63, 52, 43, 35]],
  [175, [107, 100, 90, 81, 71, 61, 51, 43, 36]], [177, [107, 103, 93, 83, 72, 61, 51, 43, 35, 31]],
  [179, [107, 102, 92, 82, 72, 62, 52, 43, 36]], [181, [98, 92, 82, 72, 61, 51, 43, 35]],
  [183, [84, 73, 62, 52, 43, 36]],
];

const SIM_PEAK1_C5: Col[] = [
  [111, [71, 62, 55, 48, 40, 33]], [113, [66, 58, 50, 44, 37, 31]], [115, [100, 85, 72, 62, 52, 44, 36]],
  [117, [95, 80, 68, 58, 49, 40, 32]], [119, [113, 108, 104, 96, 88, 78, 70, 61, 52, 44, 35]],
  [121, [122, 117, 110, 100, 92, 83, 74, 66, 57, 49, 41, 33]], [123, [118, 105, 95, 89, 81, 73, 64, 55, 47, 39, 31]],
  [125, [124, 118, 110, 102, 95, 86, 76, 68, 59, 50, 42, 34]], [127, [120, 112, 105, 98, 90, 82, 72, 63, 55, 47, 38]],
  [129, [126, 121, 115, 104, 93, 84, 75, 66, 57, 48, 40, 32]], [131, [129, 124, 118, 108, 96, 88, 78, 70, 61, 52, 43, 34]],
  [133, [127, 122, 112, 102, 94, 85, 76, 67, 58, 50, 41, 33]], [135, [126, 120, 114, 104, 95, 85, 76, 66, 57, 48, 39]],
  [137, [124, 118, 110, 100, 91, 82, 72, 63, 54, 45, 36]], [139, [128, 122, 116, 108, 97, 88, 79, 70, 60, 51, 42, 33]],
  [141, [126, 120, 112, 104, 94, 84, 75, 66, 56, 47, 38]], [143, [127, 121, 115, 110, 100, 90, 80, 70, 61, 52, 43, 34]],
  [145, [125, 118, 108, 97, 88, 78, 68, 59, 50, 41, 32]], [147, [129, 126, 122, 116, 106, 96, 86, 76, 66, 57, 48, 39]],
  [149, [128, 124, 119, 112, 103, 93, 84, 74, 64, 55, 46, 37]], [151, [127, 122, 112, 100, 90, 80, 70, 61, 52, 43, 34]],
  [153, [129, 125, 120, 114, 106, 94, 84, 74, 64, 55, 45, 36]], [155, [128, 123, 118, 106, 95, 85, 75, 65, 56, 47, 38]],
  [157, [126, 120, 113, 102, 92, 82, 72, 63, 53, 44, 35]], [159, [129, 124, 116, 104, 94, 84, 74, 64, 55, 46, 37]],
  [161, [127, 122, 118, 106, 96, 86, 76, 66, 57, 48, 39]], [163, [128, 120, 114, 102, 92, 82, 72, 62, 53, 44, 35]],
  [165, [126, 121, 112, 100, 90, 80, 70, 61, 52, 42, 33]], [167, [124, 119, 108, 97, 87, 77, 67, 58, 48, 39]],
  [169, [122, 112, 102, 92, 82, 72, 63, 54, 45, 36]], [171, [115, 106, 96, 86, 76, 66, 57, 48, 39]],
  [173, [108, 98, 88, 79, 70, 61, 52, 43, 34]], [175, [105, 96, 88, 79, 70, 61, 52, 43, 34]],
  [177, [104, 97, 89, 80, 71, 62, 53, 44, 35]], [179, [100, 92, 84, 75, 66, 57, 48, 39]],
  [181, [94, 86, 77, 68, 59, 50, 41, 32]], [183, [80, 71, 62, 53, 44, 36]], [185, [72, 64, 55, 47, 38]],
  [187, [68, 58, 50, 41]], [189, [67, 60, 52, 43, 34]], [191, [60, 50, 40]],
];
const SIM_PEAK1_C5_EVEN: Col[] = [
  [118, [104, 96, 86, 74, 64, 54, 45, 37, 30]], [120, [116, 106, 95, 86, 77, 68, 59, 50, 42, 34, 29]],
  [122, [113, 102, 92, 82, 72, 62, 53, 44, 36, 30]], [124, [120, 110, 100, 90, 80, 70, 61, 52, 44, 36, 30]],
  [126, [119, 108, 98, 88, 78, 68, 58, 49, 40, 32]], [128, [114, 104, 94, 84, 74, 65, 56, 47, 39, 31]],
  [130, [121, 112, 102, 92, 82, 72, 63, 54, 45, 37, 30]], [132, [123, 116, 106, 96, 86, 76, 66, 57, 48, 39, 31]],
  [134, [118, 109, 99, 89, 79, 69, 60, 51, 42, 34]], [136, [122, 114, 104, 94, 84, 74, 65, 56, 47, 38, 30]],
  [138, [125, 119, 110, 100, 90, 80, 70, 61, 52, 43, 35]], [140, [120, 111, 101, 91, 81, 71, 62, 53, 44, 36, 30]],
  [142, [123, 115, 105, 95, 85, 75, 66, 57, 48, 39, 31]], [144, [124, 118, 108, 98, 88, 78, 68, 59, 50, 41, 33]],
  [146, [121, 113, 103, 93, 83, 73, 64, 55, 46, 37, 30]], [148, [125, 120, 111, 101, 91, 81, 71, 62, 53, 44, 35]],
  [150, [122, 115, 105, 95, 85, 75, 65, 56, 47, 38, 31]], [152, [124, 117, 107, 97, 87, 77, 67, 58, 49, 40, 32]],
  [154, [121, 112, 102, 92, 82, 72, 63, 54, 45, 36, 30]], [156, [125, 119, 109, 99, 89, 79, 69, 60, 51, 42, 34]],
  [158, [122, 114, 104, 94, 84, 74, 65, 56, 47, 38, 31]], [160, [124, 116, 106, 96, 86, 76, 66, 57, 48, 39, 32]],
  [162, [120, 111, 101, 91, 81, 71, 62, 53, 44, 36, 30]], [164, [123, 115, 105, 95, 85, 75, 65, 56, 47, 38, 31]],
  [166, [119, 110, 100, 90, 80, 70, 61, 52, 43, 35]], [168, [116, 106, 96, 86, 76, 67, 58, 49, 40, 32]],
  [170, [111, 101, 91, 81, 72, 63, 54, 45, 37, 30]], [172, [114, 104, 94, 84, 75, 66, 57, 48, 39, 31]],
  [174, [110, 100, 90, 80, 71, 62, 53, 44, 36]], [176, [108, 98, 88, 79, 70, 61, 52, 43, 35]],
  [178, [102, 93, 84, 75, 66, 57, 48, 39, 31]], [180, [98, 88, 79, 70, 61, 52, 43, 35]],
  [182, [90, 80, 71, 62, 53, 44, 36]], [184, [78, 68, 59, 50, 41, 33]],
];

const REAL_PEAK2_C5: Col[] = [
  [238, [66, 56, 47, 41, 37]], [240, [60, 53, 47, 37, 33]], [242, [87, 66, 56, 47, 41, 37]],
  [244, [87, 77, 66, 56, 47, 41, 37]], [246, [87, 77, 66, 56, 47, 41, 37, 33]],
  [248, [96, 87, 77, 66, 60, 56, 47, 41, 37]], [250, [107, 98, 87, 77, 70, 66, 56, 47, 41, 37]],
  [252, [107, 98, 92, 87, 77, 66, 56, 52, 47, 41, 37]], [254, [107, 98, 87, 82, 77, 70, 66, 56, 47, 41, 37, 33]],
  [256, [107, 98, 92, 87, 77, 66, 60, 56, 47, 41, 37]], [258, [107, 98, 87, 82, 77, 66, 56, 47, 41, 37]],
  [260, [107, 98, 92, 87, 77, 69, 66, 56, 47, 41, 37]], [262, [107, 98, 87, 82, 77, 66, 56, 51, 47, 41, 37]],
  [264, [114, 107, 98, 92, 87, 77, 70, 66, 56, 47, 41, 37, 33]], [266, [107, 98, 87, 82, 77, 66, 60, 56, 47, 41, 37]],
  [268, [107, 98, 92, 87, 77, 69, 66, 56, 47, 41, 37]], [270, [118, 107, 98, 87, 82, 77, 66, 56, 47, 41, 37]],
  [272, [107, 98, 92, 87, 80, 77, 66, 56, 52, 47, 41, 37]], [274, [107, 98, 87, 82, 77, 69, 66, 56, 47, 41, 37]],
  [276, [124, 114, 107, 98, 92, 87, 77, 66, 60, 56, 47, 41, 37, 33]], [278, [107, 98, 87, 82, 77, 66, 56, 47, 41, 37]],
  [280, [124, 107, 98, 92, 87, 77, 70, 66, 56, 47, 41, 37]], [282, [114, 107, 98, 87, 82, 77, 66, 56, 52, 47, 41, 37]],
  [284, [107, 98, 92, 87, 80, 77, 66, 56, 47, 41, 37]], [286, [118, 107, 98, 87, 82, 77, 66, 60, 56, 47, 41, 37, 33]],
  [288, [107, 98, 92, 87, 77, 69, 66, 56, 47, 41, 37]], [290, [114, 107, 98, 87, 82, 77, 66, 56, 47, 41, 37]],
  [292, [107, 98, 92, 87, 80, 77, 66, 56, 52, 47, 41, 37]], [294, [107, 98, 87, 77, 66, 60, 56, 47, 41, 37]],
  [296, [87, 77, 70, 66, 56, 47, 41, 37, 33]], [298, [76, 66, 56, 47, 41, 37, 32]],
];
const REAL_PEAK2_C5_ODD: Col[] = [
  [243, [76, 66, 56, 47, 41, 37, 33]], [245, [87, 82, 71, 61, 52, 44, 37]], [247, [92, 87, 81, 72, 62, 52, 44, 36]],
  [249, [98, 92, 82, 72, 62, 52, 44, 36, 31]], [251, [107, 102, 92, 82, 73, 63, 52, 44, 36]],
  [253, [107, 101, 91, 82, 72, 62, 52, 44, 36, 31]], [255, [110, 107, 102, 92, 82, 72, 62, 52, 44, 36]],
  [257, [107, 103, 94, 86, 76, 66, 56, 48, 40, 33]], [259, [114, 107, 101, 93, 83, 73, 63, 53, 44, 36]],
  [261, [107, 102, 92, 84, 75, 65, 56, 48, 40, 33]], [263, [118, 107, 103, 95, 85, 75, 65, 56, 48, 40, 33]],
  [265, [107, 102, 92, 84, 74, 64, 55, 46, 38, 31]], [267, [124, 114, 107, 101, 93, 83, 73, 64, 55, 46, 38]],
  [269, [107, 103, 94, 86, 76, 66, 57, 48, 40, 33]], [271, [120, 107, 102, 92, 84, 74, 64, 55, 46, 38, 31]],
  [273, [124, 116, 107, 101, 93, 83, 73, 64, 55, 46, 38]], [275, [107, 103, 94, 86, 76, 66, 57, 48, 40, 33]],
  [277, [118, 107, 102, 92, 84, 74, 64, 55, 46, 38, 31]], [279, [124, 114, 107, 101, 93, 83, 73, 64, 55, 46, 38]],
  [281, [107, 103, 94, 86, 76, 66, 57, 48, 40, 33]], [283, [120, 107, 102, 92, 84, 74, 64, 55, 46, 38, 31]],
  [285, [124, 107, 101, 93, 83, 73, 64, 55, 46, 38]], [287, [114, 107, 103, 94, 86, 76, 66, 57, 48, 40, 33]],
  [289, [107, 102, 92, 84, 74, 64, 55, 46, 38, 31]], [291, [118, 107, 101, 93, 83, 73, 64, 55, 46, 38]],
  [293, [107, 103, 94, 86, 76, 66, 57, 48, 40, 33]], [295, [98, 90, 81, 71, 61, 52, 44, 36]],
  [297, [87, 78, 68, 58, 48, 40, 33]],
];

const SIM_PEAK2_C5: Col[] = [
  [239, [76, 69, 58, 49, 39]], [241, [72, 62, 52, 43, 34]], [243, [90, 80, 70, 60, 50, 40, 32]],
  [245, [123, 118, 112, 105, 90, 78, 68, 58, 48, 38]], [247, [95, 85, 75, 65, 55, 46, 36]],
  [249, [104, 94, 84, 74, 64, 54, 44, 34]], [251, [118, 112, 106, 98, 88, 78, 68, 58, 48, 39]],
  [253, [128, 124, 114, 104, 94, 84, 74, 64, 54, 45, 36]], [255, [126, 120, 110, 100, 90, 80, 70, 60, 50, 40, 31]],
  [257, [129, 122, 114, 104, 94, 84, 74, 64, 54, 44, 35]], [259, [126, 118, 108, 98, 88, 78, 68, 58, 48, 38]],
  [261, [129, 124, 116, 106, 96, 86, 76, 66, 56, 46, 37]], [263, [127, 120, 112, 102, 92, 82, 72, 62, 52, 42, 33]],
  [265, [129, 126, 122, 118, 108, 98, 88, 78, 68, 58, 48, 38]], [267, [128, 125, 121, 117, 110, 100, 90, 80, 70, 60, 50, 40]],
  [269, [129, 126, 123, 119, 116, 104, 94, 84, 74, 64, 54, 44, 34]], [271, [128, 124, 121, 117, 108, 98, 88, 78, 68, 58, 48, 38]],
  [273, [129, 126, 122, 118, 112, 102, 92, 82, 72, 62, 52, 42, 33]], [275, [128, 125, 121, 117, 110, 100, 90, 80, 70, 60, 50, 40]],
  [277, [129, 126, 123, 119, 116, 104, 94, 84, 74, 64, 54, 44, 35]], [279, [128, 124, 120, 117, 108, 98, 88, 78, 68, 58, 48, 38]],
  [281, [129, 126, 122, 118, 112, 102, 92, 82, 72, 62, 52, 42]], [283, [128, 125, 121, 117, 110, 100, 90, 80, 70, 60, 50, 40, 32]],
  [285, [129, 126, 123, 119, 116, 104, 94, 84, 74, 64, 54, 44]], [287, [128, 124, 121, 117, 108, 98, 88, 78, 68, 58, 48, 38]],
  [289, [129, 126, 122, 118, 112, 102, 92, 82, 72, 62, 52, 42, 34]], [291, [128, 125, 121, 117, 110, 100, 90, 80, 70, 60, 50, 40]],
  [293, [128, 122, 116, 104, 94, 84, 74, 64, 54, 44, 35]], [295, [90, 80, 70, 60, 50, 43]],
  [297, [76, 64, 52, 40, 32]], [299, [40, 32]],
];
const SIM_PEAK2_C5_EVEN: Col[] = [
  [244, [96, 84, 74, 64, 54, 45, 37, 30]], [246, [112, 100, 88, 78, 68, 58, 49, 40, 32]],
  [248, [118, 106, 95, 85, 75, 65, 56, 47, 38, 31]], [250, [124, 114, 103, 93, 82, 72, 62, 53, 44, 36, 30]],
  [252, [128, 120, 110, 100, 90, 80, 70, 60, 51, 42, 34]], [254, [126, 118, 108, 98, 87, 77, 67, 58, 49, 40, 32]],
  [256, [129, 123, 115, 105, 94, 84, 74, 64, 55, 46, 38, 30]], [258, [127, 121, 112, 102, 91, 81, 71, 61, 52, 43, 35]],
  [260, [129, 124, 117, 108, 98, 88, 78, 68, 59, 50, 41, 33]], [262, [128, 122, 114, 104, 93, 83, 73, 63, 54, 45, 37, 30]],
  [264, [129, 125, 120, 115, 106, 96, 86, 76, 66, 57, 48, 39, 31]], [266, [129, 126, 122, 118, 110, 100, 90, 80, 70, 61, 52, 43, 35]],
  [268, [128, 124, 120, 116, 104, 94, 84, 74, 64, 55, 46, 37, 30]], [270, [129, 126, 122, 118, 112, 102, 92, 82, 72, 62, 53, 44, 36]],
  [272, [129, 125, 121, 117, 106, 96, 86, 76, 66, 57, 48, 39, 31]], [274, [128, 126, 122, 118, 114, 104, 94, 84, 74, 64, 55, 46, 37, 30]],
  [276, [129, 125, 121, 117, 108, 98, 88, 78, 68, 59, 50, 41, 33]], [278, [129, 126, 122, 119, 115, 104, 94, 84, 74, 64, 55, 46, 37]],
  [280, [128, 124, 120, 116, 106, 96, 86, 76, 66, 57, 48, 39, 31]], [282, [129, 126, 122, 118, 112, 102, 92, 82, 72, 62, 53, 44, 36]],
  [284, [129, 125, 121, 117, 106, 96, 86, 76, 66, 57, 48, 39, 31]], [286, [128, 126, 122, 118, 114, 104, 94, 84, 74, 64, 55, 46, 37, 30]],
  [288, [129, 125, 121, 117, 108, 98, 88, 78, 68, 59, 50, 41, 33]], [290, [129, 126, 122, 119, 112, 102, 92, 82, 72, 62, 53, 44, 36]],
  [292, [128, 124, 120, 116, 104, 94, 84, 74, 64, 55, 46, 37, 30]], [294, [118, 106, 95, 85, 75, 65, 56, 47, 38, 31]],
  [296, [90, 78, 68, 58, 48, 39, 31]],
];

// ---------- layout & style ----------
const W = 611;
const H = 595;
const PLOT_L = 81;
const PLOT_R = 609;
const PANEL_TOP = [32, 286];
const PANEL_BOTTOM = [253, 508];
const STRIP_H = 26;
const XAXIS_H = 30;
const X_MIN = -15.05;
const X_MAX = 316.1;
const Y_MIN = 0.0158;
const Y_MAX = 0.2594;
const FONT = "'Liberation Sans', Arial, Helvetica, sans-serif";
const RED = "rgba(248,118,109,0.55)";
const TEAL = "rgba(0,191,196,0.55)";
const POINT_R = 2.4;

function toPoints(cols: Col[]) {
  const pts: { x: number; y: number }[] = [];
  for (const [t, vs] of cols) for (const v of vs) pts.push({ x: t, y: v / 1000 });
  return pts;
}

function baselinePoints() {
  const pts: { x: number; y: number }[] = [];
  for (const t of BASELINE_T) for (const v of BASELINE_MS) pts.push({ x: t, y: v / 1000 });
  return pts;
}

function facetPlugin(p: number) {
  return {
    id: "facet" + p,
    beforeDraw(chart: any) {
      const { ctx, chartArea: a, scales } = chart;
      const w = a.right - a.left;
      ctx.save();
      ctx.fillStyle = "#D9D9D9";
      ctx.fillRect(a.left, a.top - STRIP_H, w, STRIP_H);
      ctx.fillStyle = "#1A1A1A";
      ctx.font = `18px ${FONT}`;
      ctx.textAlign = "center";
      ctx.textBaseline = "alphabetic";
      ctx.fillText(PANEL_TITLES[p], (a.left + a.right) / 2, a.top - STRIP_H / 2 + 6.4);
      ctx.fillStyle = "#EBEBEB";
      ctx.fillRect(a.left, a.top, w, a.bottom - a.top);
      ctx.strokeStyle = "#FFFFFF";
      ctx.lineWidth = 0.55;
      ctx.beginPath();
      for (const v of X_MINOR) {
        const px = scales.x.getPixelForValue(v);
        ctx.moveTo(px, a.top);
        ctx.lineTo(px, a.bottom);
      }
      for (const v of Y_MINOR) {
        const py = scales.y.getPixelForValue(v);
        ctx.moveTo(a.left, py);
        ctx.lineTo(a.right, py);
      }
      ctx.stroke();

      if (p === 0) {
        ctx.save();
        ctx.translate(33, 270);
        ctx.rotate(-Math.PI / 2);
        ctx.fillStyle = "#000000";
        ctx.font = `22.5px ${FONT}`;
        ctx.textAlign = "center";
        ctx.textBaseline = "alphabetic";
        ctx.fillText(Y_TITLE, 0, 0);
        ctx.restore();
      } else {
        ctx.fillStyle = "#000000";
        ctx.font = `22.5px ${FONT}`;
        ctx.textAlign = "center";
        ctx.textBaseline = "alphabetic";
        ctx.fillText(X_TITLE, (a.left + a.right) / 2, 551.5);
        const keys = [
          { x: 237, tx: 266, color: RED },
          { x: 368, tx: 396, color: TEAL },
        ];
        ctx.font = `18px ${FONT}`;
        ctx.textAlign = "left";
        keys.forEach((k, i) => {
          ctx.fillStyle = "#F2F2F2";
          ctx.fillRect(k.x, 571, 17.3, 17.3);
          ctx.fillStyle = k.color;
          ctx.beginPath();
          ctx.arc(k.x + 8.65, 579.65, 2.2, 0, Math.PI * 2);
          ctx.fill();
          ctx.fillStyle = "#000000";
          ctx.fillText(SERIES_NAMES[i], k.tx, 587);
        });
      }
      ctx.restore();
    },
  };
}

function makeConfig(p: number): any {
  const bottomPanel = p === 1;
  const realCols = p === 0
    ? [...REAL_LOW, ...REAL_LOW_ODD, ...REAL_PEAK1_C10, ...REAL_PEAK1_C10_ODD, ...REAL_MID, ...REAL_PEAK2_C10, ...REAL_PEAK2_C10_ODD]
    : [...REAL_LOW, ...REAL_LOW_ODD, ...REAL_PEAK1_C5, ...REAL_PEAK1_C5_ODD, ...REAL_MID, ...REAL_PEAK2_C5, ...REAL_PEAK2_C5_ODD];
  const simCols = p === 0
    ? [...SIM_LOW, ...SIM_LOW_ODD, ...SIM_PEAK1_C10, ...SIM_PEAK1_C10_EVEN, ...SIM_MID, ...SIM_PEAK2_C10, ...SIM_PEAK2_C10_EVEN]
    : [...SIM_LOW, ...SIM_LOW_ODD, ...SIM_PEAK1_C5, ...SIM_PEAK1_C5_EVEN, ...SIM_MID, ...SIM_PEAK2_C5, ...SIM_PEAK2_C5_EVEN];
  const realPts = [...baselinePoints(), ...toPoints(realCols)];
  const simPts = toPoints(simCols);
  const gridCommon = {
    color: "#FFFFFF",
    lineWidth: 1.1,
    tickLength: 4,
    tickColor: "#333333",
    tickWidth: 1.1,
  };
  return {
    type: "scatter",
    data: {
      datasets: [
        { label: SERIES_NAMES[0], data: realPts, backgroundColor: RED, pointRadius: POINT_R, pointBorderWidth: 0, borderWidth: 0 },
        { label: SERIES_NAMES[1], data: simPts, backgroundColor: TEAL, pointRadius: POINT_R, pointBorderWidth: 0, borderWidth: 0 },
      ],
    },
    options: {
      responsive: false,
      animation: false,
      events: [],
      layout: {
        padding: {
          left: 0,
          right: W - PLOT_R,
          top: PANEL_TOP[p],
          bottom: H - PANEL_BOTTOM[p] - (bottomPanel ? XAXIS_H : 0),
        },
      },
      plugins: { legend: { display: false }, tooltip: { enabled: false }, title: { display: false } },
      scales: {
        x: {
          type: "linear",
          min: X_MIN,
          max: X_MAX,
          afterBuildTicks: (s: any) => {
            s.ticks = X_TICKS.map((v) => ({ value: v }));
          },
          afterFit: (s: any) => {
            s.height = bottomPanel ? XAXIS_H : 0;
            s.paddingLeft = 0;
            s.paddingRight = 0;
          },
          ticks: {
            display: bottomPanel,
            autoSkip: false,
            maxRotation: 0,
            font: { size: 18, family: FONT },
            color: "#4D4D4D",
            padding: 2,
            callback: (v: any) => String(v),
          },
          grid: { ...gridCommon, drawTicks: bottomPanel },
          border: { display: false },
        },
        y: {
          type: "linear",
          min: Y_MIN,
          max: Y_MAX,
          afterBuildTicks: (s: any) => {
            s.ticks = Y_TICKS.map((v) => ({ value: v }));
          },
          afterFit: (s: any) => {
            s.width = PLOT_L;
            s.paddingTop = 0;
            s.paddingBottom = 0;
          },
          ticks: {
            font: { size: 18, family: FONT },
            color: "#4D4D4D",
            padding: 1,
            callback: (v: any) => Number(v).toFixed(2),
          },
          grid: { ...gridCommon },
          border: { display: false },
        },
      },
    },
    plugins: [facetPlugin(p)],
  };
}

export default function App() {
  const ref1 = useRef<HTMLCanvasElement>(null);
  const ref2 = useRef<HTMLCanvasElement>(null);
  useEffect(() => {
    Chart.defaults.font.family = FONT;
    const c1 = new Chart(ref1.current as HTMLCanvasElement, makeConfig(0));
    const c2 = new Chart(ref2.current as HTMLCanvasElement, makeConfig(1));
    return () => {
      c1.destroy();
      c2.destroy();
    };
  }, []);
  const cs: React.CSSProperties = { position: "absolute", left: 0, top: 0, width: W, height: H, display: "block" };
  return (
    <div style={{ position: "fixed", left: 0, top: 0, width: W, height: H, background: "#FFFFFF" }}>
      <canvas ref={ref1} width={W} height={H} style={cs} />
      <canvas ref={ref2} width={W} height={H} style={cs} />
    </div>
  );
}
